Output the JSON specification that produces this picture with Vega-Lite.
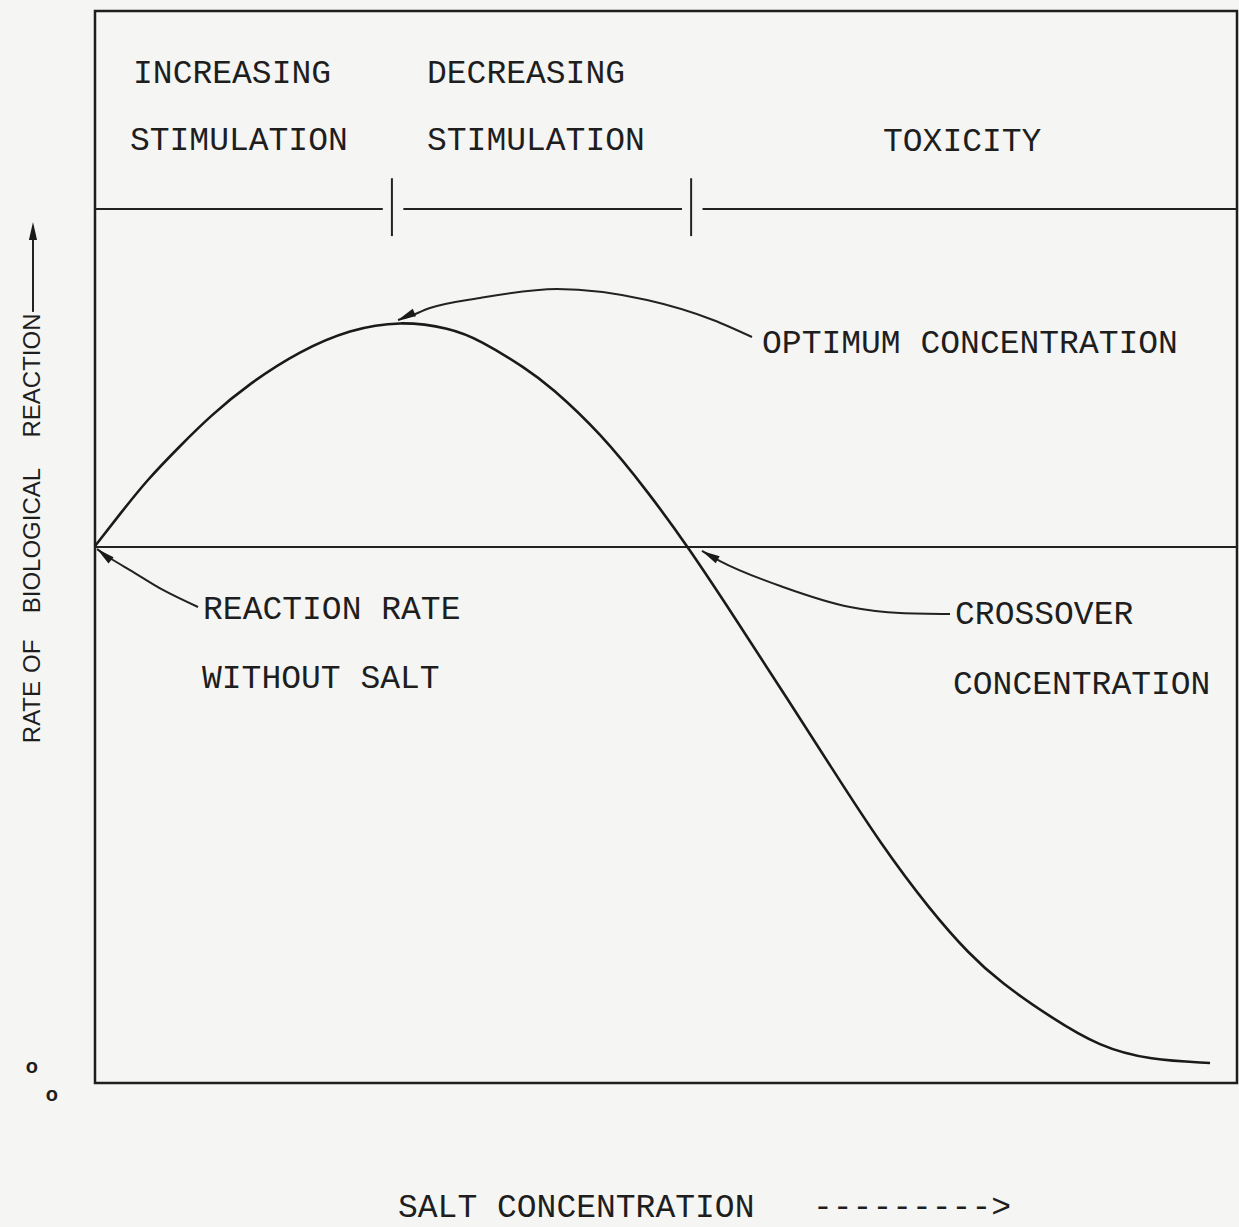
{
  "$schema": "https://vega.github.io/schema/vega-lite/v6.json",
  "autosize": "none",
  "width": 1142,
  "height": 1072,
  "padding": {"left": 95, "top": 11, "right": 2, "bottom": 144},
  "background": "#f5f5f3",
  "config": {"view": {"stroke": "#1e1e1e", "strokeWidth": 2.5}},
  "datasets": {
    "curve": [
      {"x": 0.0, "y": 50.09}, {"x": 2.19, "y": 53.08}, {"x": 4.55, "y": 56.25}, {"x": 7.44, "y": 59.42},
      {"x": 10.07, "y": 62.2}, {"x": 13.57, "y": 65.3}, {"x": 17.95, "y": 68.3}, {"x": 22.33, "y": 70.3},
      {"x": 26.71, "y": 71.1}, {"x": 31.09, "y": 70.43}, {"x": 33.71, "y": 69.31}, {"x": 37.83, "y": 66.6},
      {"x": 39.84, "y": 65.0}, {"x": 44.22, "y": 60.7}, {"x": 48.6, "y": 54.9}, {"x": 51.93, "y": 50.0},
      {"x": 55.87, "y": 43.66}, {"x": 60.25, "y": 36.47}, {"x": 64.62, "y": 29.2}, {"x": 68.74, "y": 22.39},
      {"x": 73.12, "y": 16.14}, {"x": 76.62, "y": 11.94}, {"x": 79.25, "y": 9.42}, {"x": 83.63, "y": 6.16},
      {"x": 88.0, "y": 3.36}, {"x": 92.38, "y": 2.15}, {"x": 97.64, "y": 1.87}
    ],
    "rules": [
      {"x": 0, "x2": 25.2, "y": 81.53, "y2": 81.53},
      {"x": 27.0, "x2": 51.4, "y": 81.53, "y2": 81.53},
      {"x": 53.2, "x2": 100, "y": 81.53, "y2": 81.53},
      {"x": 26.0, "x2": 26.0, "y": 79.0, "y2": 84.4},
      {"x": 52.2, "x2": 52.2, "y": 79.0, "y2": 84.4},
      {"x": 0, "x2": 100, "y": 50.0, "y2": 50.0},
      {"x": -5.43, "x2": -5.43, "y": 71.93, "y2": 79.5}
    ],
    "notes": [
      {"id": "opt", "x": 57.53, "y": 69.59}, {"id": "opt", "x": 54.12, "y": 71.18}, {"id": "opt", "x": 48.34, "y": 73.04},
      {"id": "opt", "x": 40.46, "y": 74.07}, {"id": "opt", "x": 33.71, "y": 73.23}, {"id": "opt", "x": 29.33, "y": 72.29},
      {"id": "opt", "x": 27.15, "y": 71.36}, {"id": "opt", "x": 26.53, "y": 71.18},
      {"id": "rr", "x": 9.02, "y": 44.4}, {"id": "rr", "x": 5.95, "y": 45.99}, {"id": "rr", "x": 3.06, "y": 47.85},
      {"id": "rr", "x": 1.58, "y": 48.79}, {"id": "rr", "x": 0.18, "y": 49.81},
      {"id": "cx", "x": 53.15, "y": 49.63}, {"id": "cx", "x": 54.73, "y": 48.69}, {"id": "cx", "x": 60.25, "y": 46.27},
      {"id": "cx", "x": 66.11, "y": 44.4}, {"id": "cx", "x": 70.49, "y": 43.84}, {"id": "cx", "x": 74.87, "y": 43.75}
    ],
    "heads": [
      {"x": 26.53, "y": 71.18, "angle": 155.6},
      {"x": 0.18, "y": 49.81, "angle": 219},
      {"x": 53.15, "y": 49.63, "angle": 209},
      {"x": -5.43, "y": 80.32, "angle": 270}
    ],
    "labels": [
      {"x": 3.33, "y": 94.22, "text": "INCREASING"},
      {"x": 3.06, "y": 87.97, "text": "STIMULATION"},
      {"x": 29.07, "y": 94.22, "text": "DECREASING"},
      {"x": 29.07, "y": 87.97, "text": "STIMULATION"},
      {"x": 69.0, "y": 87.87, "text": "TOXICITY"},
      {"x": 58.41, "y": 69.03, "text": "OPTIMUM CONCENTRATION"},
      {"x": 9.46, "y": 44.22, "text": "REACTION RATE"},
      {"x": 9.37, "y": 37.78, "text": "WITHOUT SALT"},
      {"x": 75.31, "y": 43.75, "text": "CROSSOVER"},
      {"x": 75.13, "y": 37.22, "text": "CONCENTRATION"},
      {"x": 26.53, "y": -11.6, "text": "SALT CONCENTRATION"},
      {"x": 62.87, "y": -11.6, "text": "--------->"}
    ],
    "ylabel": [
      {"x": -5.43, "y": 34.6, "text": "RATE"},
      {"x": -5.43, "y": 39.8, "text": "OF"},
      {"x": -5.43, "y": 50.6, "text": "BIOLOGICAL"},
      {"x": -5.43, "y": 66.0, "text": "REACTION"}
    ],
    "zeros": [
      {"x": -5.52, "y": 1.49, "text": "o"},
      {"x": -3.77, "y": -1.12, "text": "o"}
    ]
  },
  "encoding": {
    "x": {"field": "x", "type": "quantitative", "scale": {"domain": [0, 100], "nice": false, "zero": false}, "axis": null},
    "y": {"field": "y", "type": "quantitative", "scale": {"domain": [0, 100], "nice": false, "zero": false}, "axis": null}
  },
  "layer": [
    {
      "data": {"name": "rules"},
      "mark": {"type": "rule", "color": "#222222", "strokeWidth": 2},
      "encoding": {"x2": {"field": "x2"}, "y2": {"field": "y2"}}
    },
    {
      "data": {"name": "curve"},
      "mark": {"type": "line", "color": "#1a1a1a", "strokeWidth": 2.6, "interpolate": "basis"},
      "encoding": {}
    },
    {
      "data": {"name": "notes"},
      "mark": {"type": "line", "color": "#222222", "strokeWidth": 2, "interpolate": "monotone"},
      "encoding": {"detail": {"field": "id", "type": "nominal"}}
    },
    {
      "data": {"name": "heads"},
      "mark": {"type": "point", "shape": "M0,0 L-2,-0.45 L-2,0.45 Z", "filled": true, "color": "#1a1a1a", "opacity": 1, "size": 324},
      "encoding": {"angle": {"field": "angle", "type": "quantitative", "scale": null}}
    },
    {
      "data": {"name": "labels"},
      "mark": {"type": "text", "font": "Liberation Mono", "fontSize": 33, "align": "left", "baseline": "middle", "color": "#1e1e1e"},
      "encoding": {"text": {"field": "text"}}
    },
    {
      "data": {"name": "ylabel"},
      "mark": {"type": "text", "font": "Liberation Sans", "fontSize": 24, "align": "center", "baseline": "middle", "angle": 270, "color": "#1e1e1e"},
      "encoding": {"text": {"field": "text"}}
    },
    {
      "data": {"name": "zeros"},
      "mark": {"type": "text", "font": "Liberation Sans", "fontSize": 20, "fontWeight": "bold", "align": "center", "baseline": "middle", "color": "#1e1e1e"},
      "encoding": {"text": {"field": "text"}}
    }
  ]
}
